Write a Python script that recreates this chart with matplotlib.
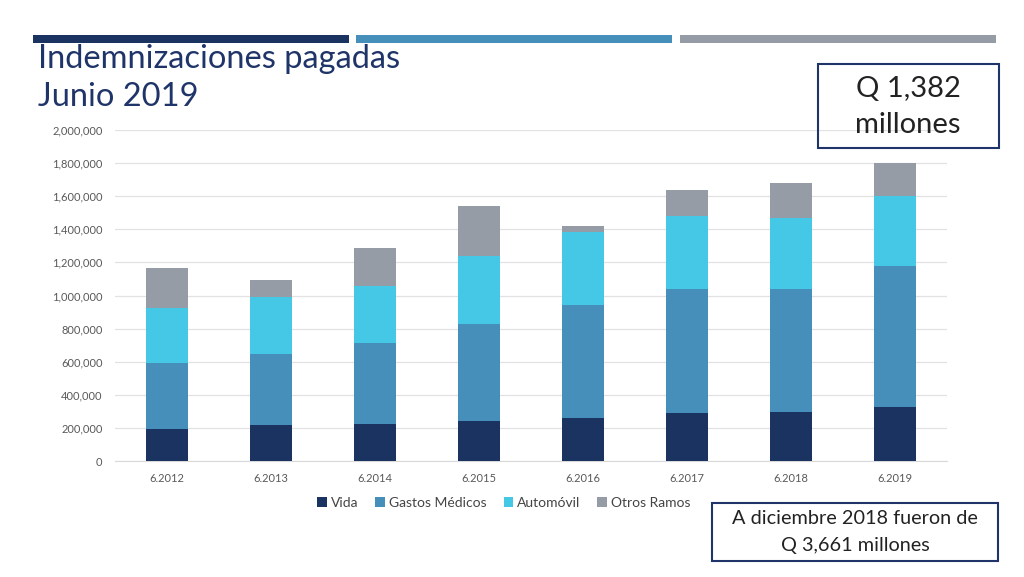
import matplotlib
matplotlib.use("Agg")
import matplotlib.pyplot as plt
from matplotlib.patches import Rectangle
import numpy as np

categories = ["6.2012", "6.2013", "6.2014", "6.2015", "6.2016", "6.2017", "6.2018", "6.2019"]
vida = [192000, 218000, 224000, 244000, 258000, 288000, 294000, 326000]
gastos = [402000, 427000, 491000, 582000, 683000, 753000, 747000, 854000]
auto = [329000, 344000, 342000, 413000, 441000, 437000, 427000, 419000]
otros = [245000, 105000, 232000, 304000, 40000, 159000, 210000, 200000]
series_names = ["Vida", "Gastos Médicos", "Automóvil", "Otros Ramos"]
colors = ["#1b3360", "#468fba", "#45c8e6", "#959ca5"]
yticks = [0, 200000, 400000, 600000, 800000, 1000000, 1200000, 1400000, 1600000, 1800000, 2000000]

plt.rcParams['font.family'] = ['Lato', 'DejaVu Sans']

W, H = 1024, 577
fig = plt.figure(figsize=(W / 100, H / 100), dpi=100)

def fx(px):
    return px / W

def fy(py):
    return 1 - py / H

# top decorative bars
for x0, x1, c in [(33, 349, "#1b3360"), (356, 672, "#468fba"), (680, 996, "#959ca5")]:
    fig.add_artist(Rectangle((fx(x0), fy(43)), fx(x1) - fx(x0), fy(35) - fy(43),
                             transform=fig.transFigure, color=c, lw=0))

fig.text(fx(38), fy(59), "Indemnizaciones pagadas", fontsize=23.5, color="#1f3468",
         va="center", ha="left")
fig.text(fx(38), fy(97), "Junio 2019", fontsize=23.5, color="#1f3468",
         va="center", ha="left")

ax = fig.add_axes([fx(115), fy(461), fx(947) - fx(115), fy(130) - fy(461)])
x = np.arange(len(categories))
bottom = np.zeros(len(categories))
handles = []
for name, vals, c in zip(series_names, [vida, gastos, auto, otros], colors):
    b = ax.bar(x, vals, width=0.4, bottom=bottom, color=c, label=name, zorder=3)
    handles.append(b)
    bottom += np.array(vals)

ax.set_xlim(-0.5, len(categories) - 0.5)
ax.set_ylim(0, 2000000)
ax.set_yticks(yticks)
ax.set_yticklabels([f"{v:,}" for v in yticks])
ax.set_xticks(x)
ax.set_xticklabels(categories)
ax.tick_params(axis="both", length=0, labelsize=8, colors="#595959")
ax.tick_params(axis="x", pad=9)
ax.tick_params(axis="y", pad=9)
ax.grid(axis="y", color="#e2e2e2", lw=0.9, zorder=0)
for s in ["top", "right", "left"]:
    ax.spines[s].set_visible(False)
ax.spines["bottom"].set_color("#d9d9d9")

leg = fig.legend(handles=handles, labels=series_names, loc="center",
                 bbox_to_anchor=(fx(504), fy(503)), ncol=4, frameon=False,
                 fontsize=10, handlelength=0.7, handleheight=0.7,
                 handletextpad=0.3, columnspacing=1.2)
for t in leg.get_texts():
    t.set_color("#444444")

# box top-right
fig.add_artist(Rectangle((fx(818), fy(148)), fx(999) - fx(818), fy(64) - fy(148),
                         transform=fig.transFigure, fill=False, ec="#1f3468", lw=1.5))
fig.text(fx(908), fy(89), "Q 1,382", fontsize=21, color="#222222", ha="center", va="center")
fig.text(fx(908), fy(125), "millones", fontsize=21, color="#222222", ha="center", va="center")

# box bottom-right
fig.add_artist(Rectangle((fx(712), fy(561)), fx(998) - fx(712), fy(503) - fy(561),
                         transform=fig.transFigure, fill=False, ec="#1f3468", lw=1.5))
fig.text(fx(855), fy(519), "A diciembre 2018 fueron de", fontsize=14.3, color="#222222",
         ha="center", va="center")
fig.text(fx(855), fy(545), "Q 3,661 millones", fontsize=14.3, color="#222222",
         ha="center", va="center")

fig.savefig("out.png", dpi=100)
